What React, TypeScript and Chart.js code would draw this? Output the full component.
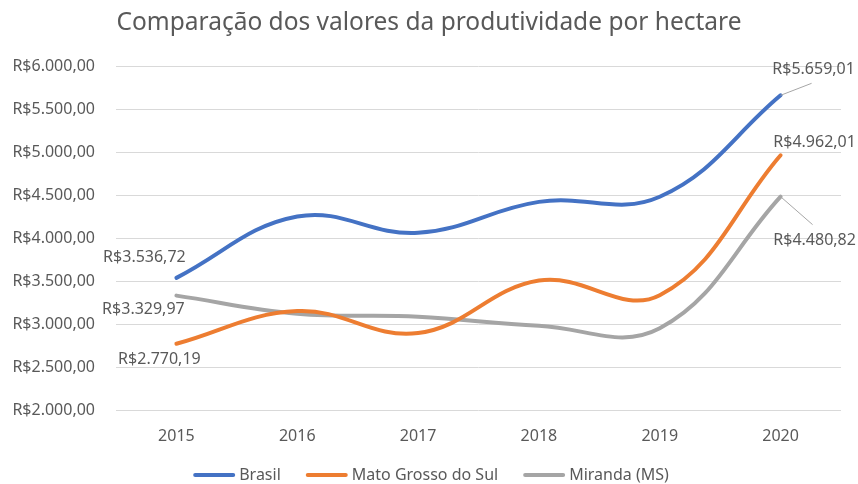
import React, { useEffect, useRef } from "react";
import { Chart, registerables } from "chart.js";

Chart.register(...registerables);

const years = ["2015", "2016", "2017", "2018", "2019", "2020"];
const brasil = [3536.72, 4250, 4060, 4420, 4480, 5659.01];
const matoGrosso = [2770.19, 3150, 2895, 3505, 3335, 4962.01];
const miranda = [3329.97, 3120, 3085, 2980, 2950, 4480.82];
const seriesNames = ["Brasil", "Mato Grosso do Sul", "Miranda (MS)"];
const colors = ["#4472c4", "#ed7d31", "#a5a5a5"];
const titleText = "Comparação dos valores da produtividade por hectare";

const FONT = "'Noto Sans', sans-serif";
const TEXT = "#595959";

const fmt = (v: number) =>
  "R$" +
  v.toLocaleString("pt-BR", { minimumFractionDigits: 2, maximumFractionDigits: 2 });

// label placements: [datasetIndex, pointIndex, dx, dy, leaderEnd?]
const labelSpecs: Array<[number, number, number, number, [number, number] | null]> = [
  [0, 0, -32, -20, null],
  [1, 0, -17, 16, null],
  [2, 0, -33, 14, null],
  [0, 5, 33, -26, [31, -12]],
  [1, 5, 34, -13, null],
  [2, 5, 34, 44, [32, 28]],
];

const dataLabelPlugin = {
  id: "dataLabels",
  afterDatasetsDraw(chart: any) {
    const ctx = chart.ctx;
    ctx.save();
    ctx.font = `16px ${FONT}`;
    ctx.fillStyle = TEXT;
    ctx.textAlign = "center";
    ctx.textBaseline = "middle";
    for (const [di, pi, dx, dy, lead] of labelSpecs) {
      const el = chart.getDatasetMeta(di).data[pi];
      if (!el) continue;
      const v = chart.data.datasets[di].data[pi] as number;
      if (lead) {
        ctx.strokeStyle = "#a6a6a6";
        ctx.lineWidth = 1;
        ctx.beginPath();
        ctx.moveTo(el.x, el.y);
        ctx.lineTo(el.x + lead[0], el.y + lead[1]);
        ctx.stroke();
      }
      ctx.fillText(fmt(v), el.x + dx, el.y + dy);
    }
    ctx.restore();
  },
};

const titleLegendPlugin = {
  id: "titleLegend",
  afterDraw(chart: any) {
    const ctx = chart.ctx;
    const W = chart.width;
    ctx.save();
    ctx.fillStyle = TEXT;
    ctx.textBaseline = "middle";
    ctx.textAlign = "center";
    ctx.font = `24.5px ${FONT}`;
    ctx.fillText(titleText, W / 2, 23);

    ctx.font = `16px ${FONT}`;
    ctx.textAlign = "left";
    const lineW = 42;
    const gap = 4;
    const spacing = 25;
    const items = chart.data.datasets.map((d: any) => ({
      label: d.label,
      color: d.borderColor,
      w: lineW + gap + ctx.measureText(d.label).width,
    }));
    const total = items.reduce((a: number, b: any) => a + b.w, 0) + spacing * (items.length - 1);
    let x = W / 2 + 2 - total / 2;
    const y = 475;
    for (const it of items) {
      ctx.strokeStyle = it.color;
      ctx.lineWidth = 4;
      ctx.lineCap = "round";
      ctx.beginPath();
      ctx.moveTo(x + 2, y);
      ctx.lineTo(x + lineW - 2, y);
      ctx.stroke();
      ctx.fillText(it.label, x + lineW + gap, y);
      x += it.w + spacing;
    }
    ctx.restore();
  },
};

export default function App() {
  const ref = useRef<HTMLCanvasElement>(null);
  useEffect(() => {
    if (!ref.current) return;
    const data = [brasil, matoGrosso, miranda];
    const chart = new Chart(ref.current, {
      type: "line",
      data: {
        labels: years,
        datasets: data.map((d, i) => ({
          label: seriesNames[i],
          data: d,
          borderColor: colors[i],
          backgroundColor: colors[i],
          borderWidth: 4,
          pointRadius: 0,
          tension: 0.4,
          borderCapStyle: "round",
        })),
      },
      options: {
        animation: false,
        responsive: false,
        layout: { padding: { top: 66, right: 17, left: 0, bottom: 0 } },
        plugins: {
          title: { display: false },
          legend: { display: false },
          tooltip: { enabled: false },
        },
        scales: {
          x: {
            offset: true,
            grid: { display: false, drawTicks: false },
            border: { display: false },
            ticks: { color: TEXT, font: { family: FONT, size: 16 }, padding: 17 },
            afterFit: (s: any) => {
              s.height = 74;
            },
          },
          y: {
            min: 2000,
            max: 6000,
            ticks: {
              stepSize: 500,
              color: TEXT,
              font: { family: FONT, size: 16 },
              padding: 21,
              callback: (v: any) => fmt(Number(v)),
            },
            grid: { color: "#d9d9d9", drawTicks: false, lineWidth: 1 },
            border: { display: false },
            afterFit: (s: any) => {
              s.width = 116;
            },
          },
        },
      },
      plugins: [dataLabelPlugin, titleLegendPlugin],
    });
    return () => chart.destroy();
  }, []);
  return (
    <div style={{ position: "fixed", left: 0, top: 0, width: 858, height: 484, background: "#fff" }}>
      <canvas ref={ref} width={858} height={484} />
    </div>
  );
}
